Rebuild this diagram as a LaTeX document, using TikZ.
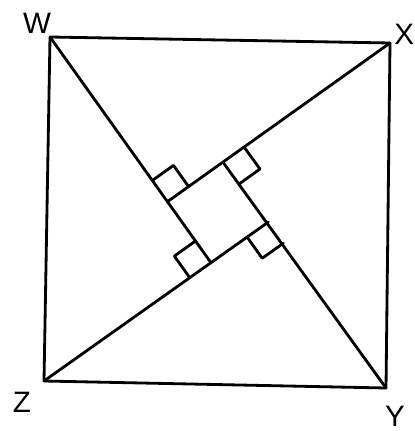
\documentclass[tikz,border=0pt]{standalone}
\usepackage{fontspec}
\setmainfont{Liberation Sans}
\usetikzlibrary{calc}
\begin{document}
\begin{tikzpicture}[x=0.025cm,y=-0.025cm,
          edge/.style={line width=2pt,line join=round,line cap=round},
          vlabel/.style={font=\fontsize{21pt}{25pt}\selectfont,
                         inner sep=0pt},
        ]
        \useasboundingbox (0,0) rectangle (414,431);
        % outer square
        \coordinate (W) at (50,37);
        \coordinate (X) at (390,43);
        \coordinate (Y) at (386,388);
        \coordinate (Z) at (44,381);
        \draw[edge] (W) -- (X) -- (Y) -- (Z) -- cycle;
        % right-angle feet (corners of the inner square)
        \coordinate (P) at ($(W)!{cos(53.5)}!-53.5:(X)$);
        \coordinate (Q) at ($(X)!{cos(53.5)}!-53.5:(Y)$);
        \coordinate (R) at ($(Y)!{cos(53.5)}!-53.5:(Z)$);
        \coordinate (S) at ($(Z)!{cos(53.5)}!-53.5:(W)$);
        \draw[edge] (W) -- (S);
        \draw[edge] (X) -- (P);
        \draw[edge] (Y) -- (Q);
        \draw[edge] (Z) -- (R);
        % right-angle marks
        \foreach \c/\a/\b in {P/W/X,Q/X/Y,R/Y/Z,S/Z/W} {
          \coordinate (m1) at ($(\c)!0.65cm!(\a)$);
          \coordinate (m2) at ($(\c)!0.65cm!(\b)$);
          \draw[edge] (m1) -- ($(m1)+(m2)-(\c)$) -- (m2);
        }
        % vertex labels
        \node[vlabel] (lW) at (37,23) {W};
        \node[vlabel,anchor=west] (lX) at (394,34) {X};
        \node[vlabel] (lY) at (395,416) {Y};
        \node[vlabel] (lZ) at (22,402) {Z};
      \end{tikzpicture}
\end{document}
